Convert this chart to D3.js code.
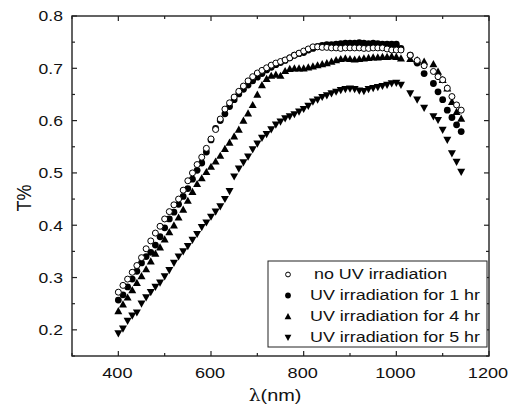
<!DOCTYPE html>
<html>
<head>
<meta charset="utf-8">
<script src="https://cdn.jsdelivr.net/npm/d3@7"></script>
<style>
  body { margin: 0; background: #fff; }
  svg { display: block; font-family: "Liberation Sans", Arial, sans-serif; }
</style>
</head>
<body>
<div id="chart"></div>
<script>
// wavelengths (nm)
var wavelengths = [400, 410, 420, 430, 440, 450, 460, 470, 480, 490,
	500, 510, 520, 530, 540, 550, 560, 570, 580, 590,
	600, 610, 620, 630, 640, 650, 660, 670, 680, 690,
	700, 710, 720, 730, 740, 750, 760, 770, 780, 790,
	800, 810, 820, 830, 840, 850, 860, 870, 880, 890,
	900, 910, 920, 930, 940, 950, 960, 970, 980, 990,
	1000, 1010, 1030, 1045, 1060, 1080, 1090, 1100, 1110, 1120, 1130, 1140];

var noUV = [.272, .285, .297, .310, .323, .338, .355, .370, .385, .398,
	.412, .426, .439, .450, .467, .485, .500, .516, .530, .547,
	.565, .583, .603, .622, .634, .645, .656, .666, .676, .684,
	.691, .696, .701, .706, .710, .713, .716, .720, .725, .729,
	.733, .737, .741, .741, .740, .740, .739, .739, .738, .739,
	.739, .739, .739, .738, .738, .739, .739, .739, .737, .735,
	.735, .735, .725, .715, .705, .694, .684, .678, .662, .646, .630, .620];

var uv1 = [.257, .267, .282, .297, .312, .328, .340, .348, .362, .378,
	.395, .412, .425, .440, .455, .470, .488, .505, .519, .540,
	.563, .585, .600, .613, .627, .640, .651, .660, .668, .676,
	.683, .690, .697, .702, .707, .711, .715, .720, .725, .728,
	.730, .735, .738, .742, .744, .745, .745, .746, .747, .748,
	.748, .748, .749, .748, .747, .748, .747, .746, .746, .746,
	.746, .738, .725, .710, .690, .671, .655, .640, .620, .606, .592, .579];

var uv4 = [.236, .249, .262, .276, .290, .303, .316, .331, .346, .358,
	.373, .387, .400, .415, .430, .447, .464, .479, .490, .502,
	.512, .522, .533, .546, .558, .570, .583, .600, .614, .630,
	.650, .668, .680, .686, .688, .686, .695, .699, .700, .700,
	.700, .702, .704, .706, .708, .710, .713, .716, .718, .719,
	.718, .717, .718, .719, .720, .721, .721, .722, .722, .723,
	.722, .719, .718, .716, .713, .708, .694, .678, .662, .636, .617, .604];

var uv5 = [.193, .202, .217, .227, .233, .250, .262, .272, .282, .290,
	.302, .314, .328, .340, .350, .360, .372, .383, .396, .405,
	.416, .426, .436, .450, .465, .493, .508, .520, .531, .545,
	.556, .567, .574, .583, .592, .598, .604, .608, .612, .617,
	.622, .628, .636, .640, .645, .648, .652, .655, .658, .660,
	.661, .660, .657, .656, .660, .662, .664, .666, .668, .671,
	.672, .668, .652, .640, .624, .608, .601, .582, .563, .537, .521, .502];

var seriesNames = ["no UV irradiation", "UV irradiation for 1 hr", "UV irradiation for 4 hr", "UV irradiation for 5 hr"];
var seriesSymbols = ["openCircle", "circle", "triangleUp", "triangleDown"];
var seriesValues = [noUV, uv1, uv4, uv5];

var xTicks = [400, 600, 800, 1000, 1200];
var yTicks = [0.2, 0.3, 0.4, 0.5, 0.6, 0.7, 0.8];

var W = 519, H = 407;
var margin = {left: 72, right: 30, top: 16, bottom: 51};
// the original figure is stretched sideways, so text is widened a bit
var stretch = 1.17;

var svg = d3.select("#chart").append("svg")
	.attr("width", W)
	.attr("height", H);

var x = d3.scaleLinear().domain([300, 1200]).range([margin.left, W - margin.right]);
var y = d3.scaleLinear().domain([0.15, 0.8]).range([H - margin.bottom, margin.top]);

var x0 = x.range()[0], x1 = x.range()[1];
var y0 = y.range()[0], y1 = y.range()[1];

function label(parent, tx, ty, str, size, anchor, extra) {
	var g = parent.append("g")
		.attr("transform", "translate(" + tx + "," + ty + ") scale(" + stretch + ",1)" + (extra || ""));
	return g.append("text")
		.attr("text-anchor", anchor)
		.attr("font-size", size)
		.attr("fill", "#111")
		.text(str);
}

// frame
svg.append("rect")
	.attr("x", x0).attr("y", y1)
	.attr("width", x1 - x0).attr("height", y0 - y1)
	.attr("fill", "none").attr("stroke", "#222").attr("stroke-width", 1.4);

// ticks (inward, on all four sides)
var tickG = svg.append("g").attr("stroke", "#222").attr("stroke-width", 1.2);
d3.range(300, 1201, 100).forEach(function(v) {
	var len = (v % 200 == 0) ? 5 : 3;
	tickG.append("line").attr("x1", x(v)).attr("x2", x(v)).attr("y1", y0).attr("y2", y0 - len);
	tickG.append("line").attr("x1", x(v)).attr("x2", x(v)).attr("y1", y1).attr("y2", y1 + len);
});
d3.range(0.15, 0.801, 0.05).forEach(function(v) {
	var major = Math.abs(Math.round(v * 10) - v * 10) < 1e-6;
	var len = major ? 5 : 3;
	tickG.append("line").attr("x1", x0).attr("x2", x0 + len).attr("y1", y(v)).attr("y2", y(v));
	tickG.append("line").attr("x1", x1).attr("x2", x1 - len).attr("y1", y(v)).attr("y2", y(v));
});

// tick labels
xTicks.forEach(function(d) {
	label(svg, x(d) - 1, y0 + 21.5, d, 15.5, "middle");
});
yTicks.forEach(function(d) {
	label(svg, x0 - 9, y(d) + 5.3, d.toFixed(1), 15, "end");
});

// axis titles
var xt = label(svg, 275, 401, "", 17, "middle");
xt.append("tspan").attr("font-family", "'DejaVu Serif', serif").attr("font-size", 16).text("λ");
xt.append("tspan").text("(nm)");

label(svg, 31, 198, "T%", 18, "middle", " rotate(-90)");

// symbols
function drawSymbol(g, type, cx, cy, s) {
	if (type == "openCircle") {
		g.append("circle").attr("cx", cx).attr("cy", cy).attr("r", 3 * s)
			.attr("fill", "#fff").attr("stroke", "#000").attr("stroke-width", 1);
	} else if (type == "circle") {
		g.append("circle").attr("cx", cx).attr("cy", cy).attr("r", 3.4 * s).attr("fill", "#000");
	} else if (type == "triangleUp") {
		var a = 4 * s;
		g.append("path").attr("d", "M" + cx + "," + (cy - a) + "L" + (cx + a) + "," + (cy + a * 0.8) +
			"L" + (cx - a) + "," + (cy + a * 0.8) + "Z").attr("fill", "#000");
	} else {
		var b = 4 * s;
		g.append("path").attr("d", "M" + cx + "," + (cy + b) + "L" + (cx + b) + "," + (cy - b * 0.8) +
			"L" + (cx - b) + "," + (cy - b * 0.8) + "Z").attr("fill", "#000");
	}
}

// draw series, 5 hr first so that no-UV circles end on top
var order = [3, 2, 1, 0];
order.forEach(function(k) {
	var g = svg.append("g").attr("class", "series-" + k);
	seriesValues[k].forEach(function(v, i) {
		if (v == null) return;
		drawSymbol(g, seriesSymbols[k], x(wavelengths[i]), y(v), 1);
	});
});

// legend
var lg = svg.append("g").attr("transform", "translate(268,261)");
lg.append("rect").attr("width", 219).attr("height", 86)
	.attr("fill", "#fff").attr("stroke", "#222").attr("stroke-width", 1);
seriesNames.forEach(function(name, i) {
	var base = 18 + i * 21;
	drawSymbol(lg, seriesSymbols[i], 20, base - 4.5, i == 0 ? 0.8 : 0.85);
	label(lg, i == 0 ? 46 : 42, base, name, 15.3, "start");
});
</script>
</body>
</html>
